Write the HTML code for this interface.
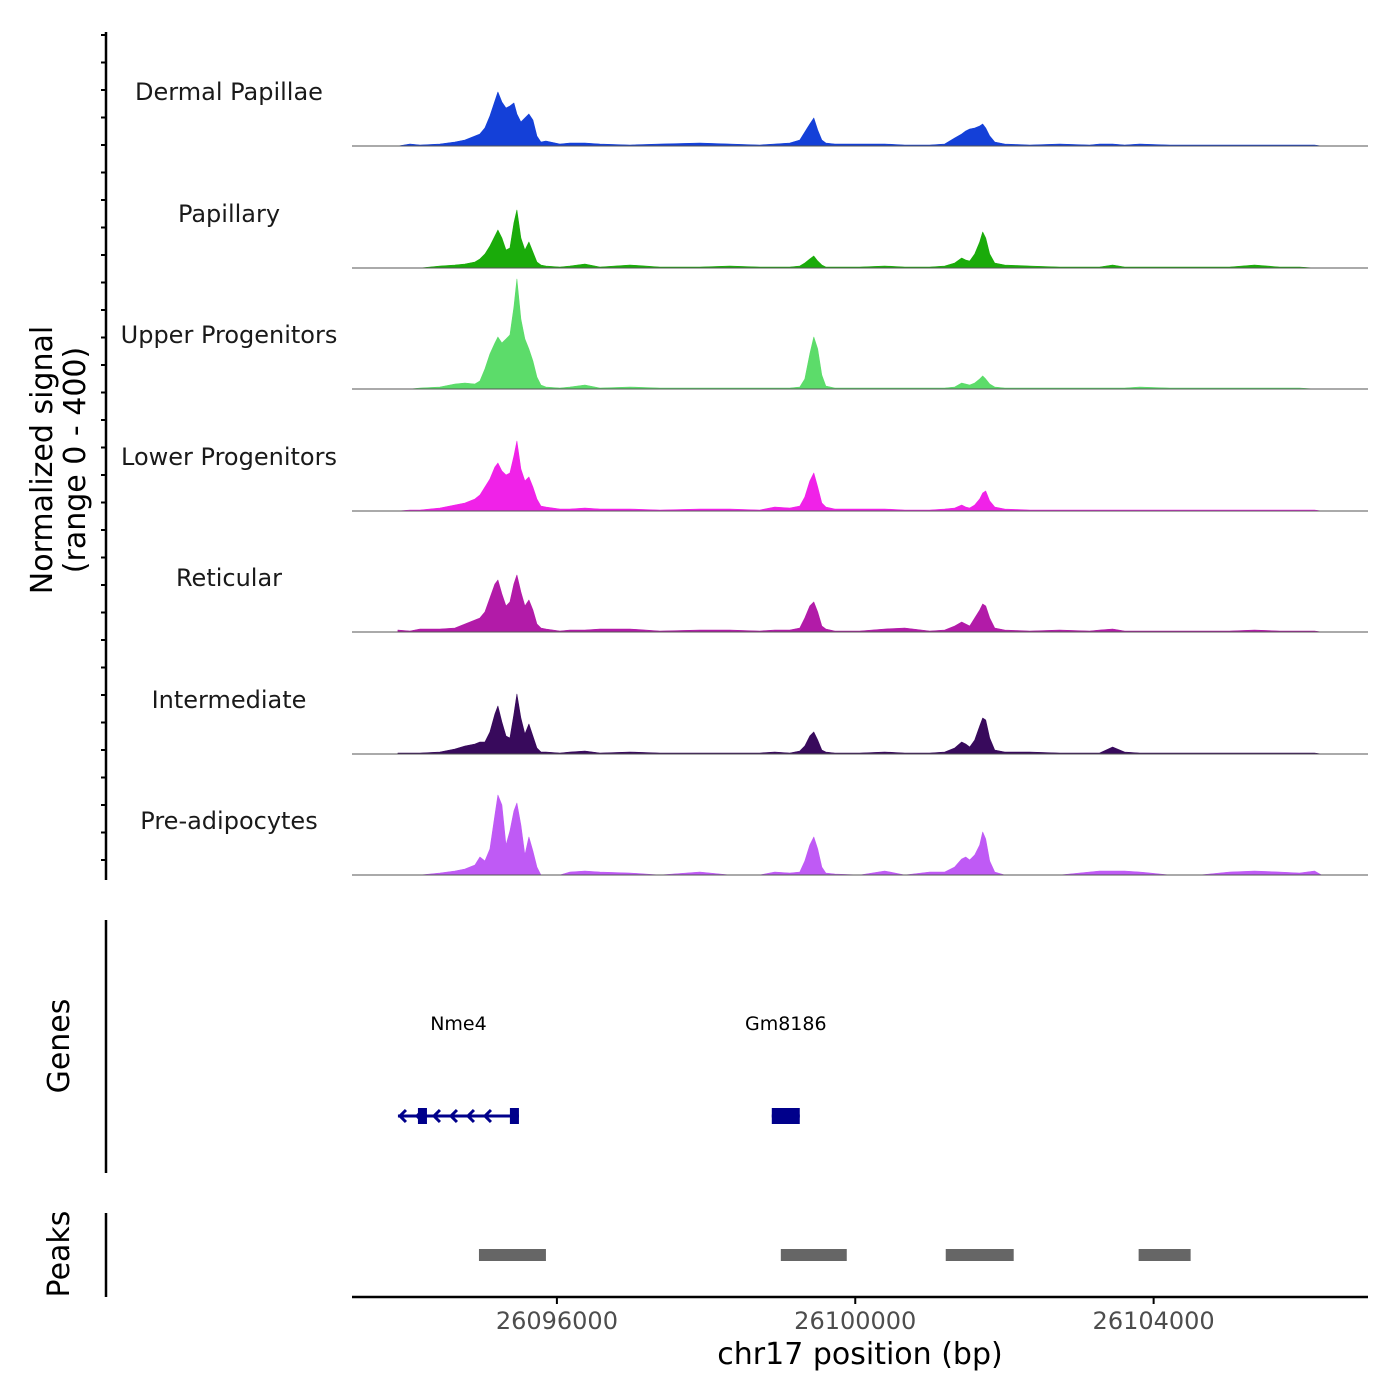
<!DOCTYPE html>
<html><head><meta charset="utf-8"><style>
html,body{margin:0;padding:0;background:#fff;}
svg{display:block;font-family:"DejaVu Sans","Liberation Sans",sans-serif;}
</style></head><body>
<svg id="chart" width="1400" height="1400" viewBox="0 0 1400 1400" xmlns="http://www.w3.org/2000/svg"></svg>
<script>
const positions=[26093869,26094030,26094164,26094432,26094633,26094767,26094901,26094968,26095035,26095102,26095169,26095209,26095263,26095317,26095370,26095424,26095464,26095518,26095571,26095625,26095678,26095732,26095786,26095853,26096040,26096174,26096375,26096576,26096978,26097380,26097916,26098318,26098720,26098921,26099122,26099256,26099323,26099390,26099444,26099497,26099551,26099605,26099725,26100060,26100395,26100663,26100998,26101199,26101333,26101427,26101481,26101534,26101601,26101668,26101708,26101749,26101802,26101869,26102003,26102338,26102740,26103142,26103276,26103450,26103611,26103812,26104214,26104616,26105018,26105353,26105688,26105956,26106157,26106251];
const trackNames=["Dermal Papillae","Papillary","Upper Progenitors","Lower Progenitors","Reticular","Intermediate","Pre-adipocytes"];
const dermalPapillae=[0,2,1,2,4,6,10,12,18,30,45,54,44,38,40,43,32,24,28,32,26,10,4,5,2,3,3,2,1,2,3,2,1,2,3,6,14,22,28,16,6,3,2,2,2,1,1,2,8,12,15,17,18,20,22,18,10,4,2,1,2,1,2,2,1,2,1,1,1,1,1,1,1,0];
const papillary=[0,0,0,2,3,4,6,9,14,22,32,38,30,18,20,45,58,30,18,26,16,6,3,2,1,2,4,1,3,1,1,2,1,1,1,2,5,9,12,7,3,1,1,1,2,1,1,2,5,10,8,7,14,26,36,30,14,5,3,2,1,1,1,3,1,1,1,1,1,3,1,1,0,0];
const upperProgenitors=[0,0,1,2,5,6,5,8,20,35,46,52,46,50,54,82,110,70,50,40,28,12,4,2,1,2,4,1,2,1,1,1,1,1,1,2,10,35,52,40,14,3,1,1,1,1,1,1,2,6,5,4,6,10,13,10,5,2,1,1,1,1,1,1,1,2,1,1,1,1,1,1,0,0];
const lowerProgenitors=[0,1,1,3,6,8,12,16,24,32,44,48,40,36,38,55,70,42,30,34,24,12,5,4,2,2,3,2,2,1,2,2,1,4,3,5,14,30,38,24,8,4,2,2,2,1,1,2,3,6,4,3,6,12,18,20,10,4,2,1,1,1,1,1,1,1,1,1,1,1,1,1,1,0];
const reticular=[2,1,3,3,4,8,12,14,20,34,48,52,38,26,30,48,57,40,26,32,22,8,4,3,1,2,2,3,3,1,2,2,1,2,2,4,14,26,30,20,6,3,1,1,3,4,1,2,6,10,8,6,14,22,28,26,14,4,2,1,2,1,2,3,1,1,1,1,1,2,1,1,1,0];
const intermediate=[1,1,1,2,5,8,10,12,12,22,40,48,32,18,16,40,60,36,20,30,18,6,2,2,1,2,3,1,2,1,1,1,1,2,1,3,8,18,22,14,4,2,1,1,2,1,1,2,6,12,10,7,14,28,36,34,16,4,2,2,1,1,1,7,2,1,1,1,1,1,1,1,1,0];
const preAdipocytes=[0,0,0,2,4,6,10,18,14,26,60,80,70,30,44,64,72,50,20,38,24,8,0,0,0,3,4,3,2,0,3,0,0,3,2,3,14,30,38,26,8,2,1,0,4,0,3,3,8,16,18,15,20,30,43,36,14,3,0,0,0,3,4,4,4,3,0,0,3,4,3,2,4,0];
const peakStarts=[26094955,26099002,26101213,26103799];
const peakEnds=[26095853,26099886,26102124,26104496];
const geneNames=["Nme4","Gm8186"];
const geneStarts=[26093869,26098881];
const geneEnds=[26095491,26099256];
const exonStarts=[26094137,26095370,26098881];
const exonEnds=[26094258,26095491,26099256];
const xTicks=[26096000,26100000,26104000];

const colors=["#1440D8","#1AAB0A","#5CDC6A","#F022E8","#B21BA8","#380A5C","#BF5AF5"];
const series=[dermalPapillae,papillary,upperProgenitors,lowerProgenitors,reticular,intermediate,preAdipocytes];
const X0=352,X1=1368,BP0=26093253,BP1=26106874;
const xs=bp=>X0+(bp-BP0)/(BP1-BP0)*(X1-X0);
const baselines=[146,268,389,511,632,754,875];
const ys=(v,b)=>b-v;
const svg=document.getElementById('chart');
const NS="http://www.w3.org/2000/svg";
function mk(tag,attrs,parent){const e=document.createElementNS(NS,tag);for(const k in attrs)e.setAttribute(k,attrs[k]);(parent||svg).appendChild(e);return e;}

let ax=mk('line',{x1:106,y1:32,x2:106,y2:880,stroke:'#000','stroke-width':2.5});


for(let y=35;y<=880;y+=27.5){let t=mk('line',{x1:101,y1:y,x2:106,y2:y,stroke:'#000','stroke-width':2});

}
let yt=mk('text',{x:0,y:0,transform:'translate(52,460) rotate(-90)','text-anchor':'middle','font-size':30});


mk('tspan',{x:0,dy:0},yt).textContent='Normalized signal';
mk('tspan',{x:0,dy:33},yt).textContent='(range 0 - 400)';

for(let i=0;i<7;i++){
  const b=baselines[i],vals=series[i];
  let d='M'+xs(positions[0]).toFixed(1)+','+b;
  for(let j=0;j<positions.length;j++)d+=' L'+xs(positions[j]).toFixed(1)+','+ys(vals[j],b).toFixed(1);
  d+=' L'+xs(positions[positions.length-1]).toFixed(1)+','+b+' Z';
  let p=mk('path',{d:d,fill:colors[i],stroke:colors[i],'stroke-width':0.6,'stroke-linejoin':'round'});
  
  
  let bl=mk('line',{x1:X0,y1:b,x2:X1,y2:b,stroke:'#555','stroke-width':1});
  
  
  let t=mk('text',{x:229,y:b-46,'text-anchor':'middle','font-size':24,fill:'#1a1a1a'});
  t.textContent=trackNames[i];
  
  
}

let ga=mk('line',{x1:106,y1:920,x2:106,y2:1173,stroke:'#000','stroke-width':2.5});


let gt=mk('text',{x:0,y:0,transform:'translate(69,1046) rotate(-90)','text-anchor':'middle','font-size':30});
gt.textContent='Genes';


const GY=1116;
for(let g=0;g<geneNames.length;g++){
  const a=xs(geneStarts[g]),e=xs(geneEnds[g]);
  let l=mk('line',{x1:a,y1:GY,x2:e,y2:GY,stroke:'#00008B','stroke-width':3});
  
  
  let t=mk('text',{x:(a+e)/2,y:1030,'text-anchor':'middle','font-size':19,fill:'#000'});
  t.textContent=geneNames[g];
  
  
  if(e-a>60){for(let x=a+2;x<e-20;x+=17){let c=mk('path',{d:`M${x+6},${GY-6} L${x},${GY} L${x+6},${GY+6}`,fill:'none',stroke:'#00008B','stroke-width':3});
  
  }}
}
for(let k=0;k<exonStarts.length;k++){
  const a=xs(exonStarts[k]),e=xs(exonEnds[k]);
  let r=mk('rect',{x:a,y:GY-8,width:Math.max(e-a,4),height:16,fill:'#00008B'});
  
  
}

let pa=mk('line',{x1:106,y1:1213,x2:106,y2:1297,stroke:'#000','stroke-width':2.5});


let pt=mk('text',{x:0,y:0,transform:'translate(69,1254) rotate(-90)','text-anchor':'middle','font-size':30});
pt.textContent='Peaks';


for(let k=0;k<peakStarts.length;k++){
  let r=mk('rect',{x:xs(peakStarts[k]),y:1249,width:xs(peakEnds[k])-xs(peakStarts[k]),height:12,fill:'#666'});
  
  
}

let xa=mk('line',{x1:X0,y1:1297,x2:X1,y2:1297,stroke:'#000','stroke-width':2.5});


for(const v of xTicks){
  let t=mk('line',{x1:xs(v),y1:1297,x2:xs(v),y2:1304,stroke:'#000','stroke-width':2});
  
  
  let l=mk('text',{x:xs(v),y:1329,'text-anchor':'middle','font-size':24,fill:'#4d4d4d'});
  l.textContent=String(v);
  
  
}
let xt=mk('text',{x:860,y:1364,'text-anchor':'middle','font-size':30,fill:'#000'});
xt.textContent='chr17 position (bp)';


</script>
</body></html>
